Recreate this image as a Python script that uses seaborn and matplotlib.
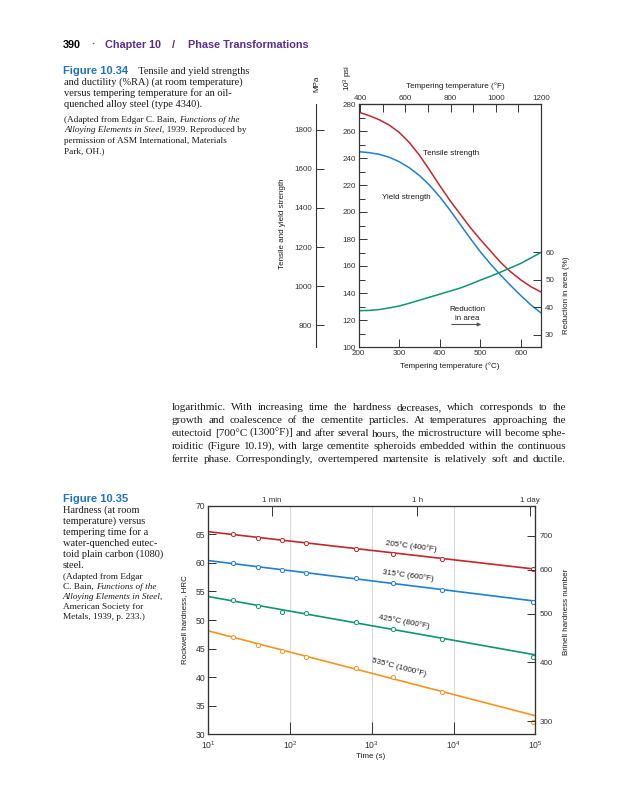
import numpy as np
import matplotlib.pyplot as plt
import matplotlib.ticker as mticker
import seaborn as sns

# ---- Figure 10.34: 4340 steel, oil quenched, tempered ----
temp_c = [200, 225, 250, 275, 300, 325, 350, 375, 400, 425, 450, 475, 500,
          525, 550, 575, 600, 625, 650]
tensile_ksi = [274, 271.5, 268.5, 264.5, 259, 251.5, 242, 231, 219.5, 208.5,
               198.5, 188.5, 179.5, 171, 162.5, 155.5, 149.5, 144.5, 140.6]
yield_ksi = [244.7, 244, 242.8, 240.6, 237.3, 232.8, 227, 219.8, 211.2, 201.4,
             190.9, 180.4, 170.4, 161.4, 153.1, 145.3, 137.9, 130.9, 125.0]
ra_pct = [38.8, 38.9, 39.2, 39.8, 40.5, 41.5, 42.6, 43.7, 44.8, 45.9,
          47.0, 48.4, 49.9, 51.3, 52.8, 54.4, 56.0, 58.0, 60.0]

# ---- Figure 10.35: 1080 steel, water quenched, hardness vs time ----
time_s = [20, 40, 80, 155, 640, 1800, 7200, 93000]
hrc_205 = [65.0, 64.4, 64.0, 63.5, 62.4, 61.5, 60.6, 58.9]
hrc_315 = [59.9, 59.3, 58.75, 58.3, 57.35, 56.5, 55.3, 53.2]
hrc_425 = [53.45, 52.5, 51.35, 51.3, 49.65, 48.4, 46.7, 43.6]
hrc_535 = [47.1, 45.6, 44.6, 43.6, 41.55, 40.0, 37.35, 32.2]
fit_time = [10, 1e5]
fit_205 = [65.45, 58.9]
fit_315 = [60.4, 53.3]
fit_425 = [54.1, 43.9]
fit_535 = [48.1, 33.25]
series_names = ['205°C (400°F)', '315°C (600°F)', '425°C (800°F)', '535°C (1000°F)']
brinell_labels = [700, 600, 500, 400, 300]
brinell_hrc = [64.7, 58.75, 51.05, 42.6, 32.3]
time_marks = [60, 3600, 86400]
time_mark_labels = ['1 min', '1 h', '1 day']

RED, BLUE, GREEN, ORANGE = '#c4262e', '#1f7fd3', '#0f9474', '#f7941d'
FIGBLUE, PURPLE = '#1d73c2', '#5a2d8f'
SPINE = '#333333'

sns.set_style('ticks')
plt.rcParams['font.family'] = ['Liberation Sans', 'DejaVu Sans']
plt.rcParams['mathtext.fontset'] = 'custom'
plt.rcParams['mathtext.rm'] = 'Liberation Sans'
plt.rcParams['mathtext.it'] = 'Liberation Sans:italic'
plt.rcParams['mathtext.bf'] = 'Liberation Sans:bold'
plt.rcParams['axes.edgecolor'] = SPINE
plt.rcParams['axes.linewidth'] = 0.8
plt.rcParams['xtick.direction'] = 'in'
plt.rcParams['ytick.direction'] = 'in'
plt.rcParams['xtick.color'] = SPINE
plt.rcParams['ytick.color'] = SPINE

W, H = 638, 800
fig = plt.figure(figsize=(W / 100, H / 100), dpi=100)
fig.patch.set_facecolor('white')
renderer = fig.canvas.get_renderer()


def pos(x, y):
    return x / W, 1 - y / H


def box(x0, y0, x1, y1):
    return [x0 / W, 1 - y1 / H, (x1 - x0) / W, (y1 - y0) / H]


def width_of(s, **kw):
    t = fig.text(0, 0, s + '|', **kw)
    w = t.get_window_extent(renderer).width
    t.remove()
    t = fig.text(0, 0, '|', **kw)
    w -= t.get_window_extent(renderer).width
    t.remove()
    return w


def runs(x, y, parts):
    for s, kw in parts:
        fig.text(*pos(x, y), s, va='baseline', **kw)
        x += width_of(s, **kw)


def justify(line, x0, x1, y, **kw):
    words = line.split(' ')
    ws = [width_of(w, **kw) for w in words]
    gap = (x1 - x0 - sum(ws)) / (len(words) - 1)
    x = x0
    for w, wd in zip(words, ws):
        fig.text(*pos(x, y), w, va='baseline', **kw)
        x += wd + gap


SERIF = dict(family=['Liberation Serif', 'DejaVu Serif'], color='#1a1a1a')
SERIF_I = dict(SERIF, style='italic')
HEAD = dict(family=['Liberation Sans', 'DejaVu Sans'], weight='bold')
CHART = 5.8

# ---- page header ----
head = [(63, '390', 'black'), (91.5, '·', RED), (105, 'Chapter 10', PURPLE),
        (172, '/', PURPLE), (188, 'Phase Transformations', PURPLE)]
for hx, s, c in head:
    fig.text(*pos(hx, 48), s, va='baseline', **dict(HEAD, size=7.8, color=c))

# ---- caption 10.34 ----
cap = dict(SERIF, size=7.5)
small = dict(SERIF, size=6.7)
small_i = dict(SERIF_I, size=6.7)
runs(63, 73.7, [('Figure 10.34', dict(HEAD, size=8, color=FIGBLUE)),
                ('    Tensile and yield strengths', cap)])
runs(64, 84.7, [('and ductility (%RA) (at room temperature)', cap)])
runs(64, 95.7, [('versus tempering temperature for an oil-', cap)])
runs(64, 106.7, [('quenched alloy steel (type 4340).', cap)])
runs(64, 121.8, [('(Adapted from Edgar C. Bain, ', small), ('Functions of the', small_i)])
runs(64, 132.3, [('Alloying Elements in Steel', small_i), (', 1939. Reproduced by', small)])
runs(64, 142.8, [('permission of ASM International, Materials', small)])
runs(64, 153.3, [('Park, OH.)', small)])

# ---- caption 10.35 ----
cap_lines = ['Hardness (at room', 'temperature) versus', 'tempering time for a',
             'water-quenched eutec-', 'toid plain carbon (1080)', 'steel.']
runs(63, 502, [('Figure 10.35', dict(HEAD, size=8, color=FIGBLUE))])
for i, s in enumerate(cap_lines):
    runs(63, 513 + 11 * i, [(s, cap)])
runs(63, 579, [('(Adapted from Edgar', small)])
runs(63, 589, [('C. Bain, ', small), ('Functions of the', small_i)])
runs(63, 599, [('Alloying Elements in Steel,', small_i)])
runs(63, 609, [('American Society for', small)])
runs(63, 619, [('Metals, 1939, p. 233.)', small)])

# ---- body paragraph ----
body = ['logarithmic. With increasing time the hardness decreases, which corresponds to the',
        'growth and coalescence of the cementite particles. At temperatures approaching the',
        'eutectoid [700°C (1300°F)] and after several hours, the microstructure will become sphe-',
        'roiditic (Figure 10.19), with large cementite spheroids embedded within the continuous',
        'ferrite phase. Correspondingly, overtempered martensite is relatively soft and ductile.']
for i, s in enumerate(body):
    justify(s, 172, 566, 410 + 12.9 * i, **dict(SERIF, size=8))

# ================= Figure 10.34 chart =================
ax1 = fig.add_axes(box(358.5, 104, 541, 347))
sns.lineplot(x=temp_c, y=tensile_ksi, ax=ax1, color=RED, lw=1.1)
sns.lineplot(x=temp_c, y=yield_ksi, ax=ax1, color=BLUE, lw=1.1)
ax1.set_xlim(200, (1200 - 32) * 5 / 9)
ax1.set_ylim(100, 280)
ax1.set_xticks([200, 300, 400, 500, 600])
ax1.set_yticks(range(100, 281, 20))
ax1.yaxis.set_minor_locator(mticker.MultipleLocator(10))
ax1.tick_params(axis='both', which='major', length=6, width=0.7, labelsize=CHART, pad=2)
ax1.tick_params(axis='y', which='minor', length=4, width=0.7)
ax1.tick_params(top=False, right=False)

ax_ra = ax1.twinx()
sns.lineplot(x=temp_c, y=ra_pct, ax=ax_ra, color=GREEN, lw=1.1)
ax_ra.set_ylim(25.65, 113.7)
ax_ra.set_yticks([30, 40, 50, 60])
ax_ra.tick_params(axis='y', length=6, width=0.7, labelsize=CHART, pad=3)
ax_ra.set_ylabel('')

ax_f = ax1.secondary_xaxis('top', functions=(lambda c: c * 9 / 5 + 32, lambda f: (f - 32) * 5 / 9))
ax_f.set_xticks([400, 600, 800, 1000, 1200])
ax_f.xaxis.set_minor_locator(mticker.MultipleLocator(100))
ax_f.tick_params(which='both', length=6, width=0.7, labelsize=CHART, pad=1.5)

ax_m = ax1.secondary_yaxis(-0.233, functions=(lambda k: k * 6.895, lambda m: m / 6.895))
ax_m.set_yticks(range(800, 1801, 200))
ax_m.tick_params(length=6, width=0.7, labelsize=CHART, pad=3)

txt = dict(size=CHART, color='#1a1a1a')
fig.text(*pos(455, 86), 'Tempering temperature (°F)', ha='center', va='center', **txt)
fig.text(*pos(450, 366), 'Tempering temperature (°C)', ha='center', va='center', **txt)
fig.text(*pos(316.5, 84), 'MPa', ha='center', va='center', rotation=90, **txt)
fig.text(*pos(348, 78), '10$^3$ psi', ha='center', va='center', rotation=90, **txt)
fig.text(*pos(282, 224), 'Tensile and yield strength', ha='center', va='center', rotation=90, **txt)
fig.text(*pos(566, 295), 'Reduction in area (%)', ha='center', va='center', rotation=90, **txt)
fig.text(*pos(423, 153.5), 'Tensile strength', ha='left', va='center', **txt)
fig.text(*pos(382, 197.5), 'Yield strength', ha='left', va='center', **txt)
fig.text(*pos(467, 309.5), 'Reduction', ha='center', va='center', **txt)
fig.text(*pos(467, 318.5), 'in area', ha='center', va='center', **txt)
fig.patches.append(plt.matplotlib.patches.FancyArrowPatch(
    pos(449, 324.5), pos(484, 324.5), transform=fig.transFigure, figure=fig,
    arrowstyle='-|>', mutation_scale=5, color='#555555', lw=0.8))

# ================= Figure 10.35 chart =================
ax2 = fig.add_axes(box(208.3, 505.7, 535.3, 734.3))
colors = [RED, BLUE, GREEN, ORANGE]
series = [hrc_205, hrc_315, hrc_425, hrc_535]
fits = [fit_205, fit_315, fit_425, fit_535]
for c, hv, fv in zip(colors, series, fits):
    sns.lineplot(x=fit_time, y=fv, ax=ax2, color=c, lw=1.2, zorder=3)
    sns.scatterplot(x=time_s, y=hv, ax=ax2, marker='o', s=9, facecolor='white',
                    edgecolor=c, linewidth=0.7, zorder=4)
ax2.set_xscale('log')
ax2.set_xlim(10, 1e5)
ax2.set_ylim(30, 70)
ax2.set_xticks([10, 100, 1000, 10000, 100000])
ax2.xaxis.set_major_formatter(mticker.LogFormatterMathtext())
ax2.xaxis.set_minor_locator(mticker.NullLocator())
ax2.set_yticks(range(30, 71, 5))
ax2.yaxis.set_minor_locator(mticker.FixedLocator([40, 60]))
ax2.grid(axis='x', which='major', color='#d9d9d9', lw=0.8)
ax2.grid(axis='y', which='minor', color='#d9d9d9', lw=0.8)
ax2.set_axisbelow(True)
ax2.tick_params(axis='x', which='major', length=9, width=0.7, labelsize=6.2, pad=3.5)
ax2.tick_params(axis='y', which='major', length=6, width=0.7, labelsize=6.2, pad=2)
ax2.tick_params(axis='y', which='minor', length=0)
ax2.tick_params(top=False, right=False)

ax_t = ax2.twiny()
ax_t.set_xscale('log')
ax_t.set_xlim(10, 1e5)
ax_t.set_xticks(time_marks, labels=time_mark_labels)
ax_t.xaxis.set_minor_locator(mticker.NullLocator())
ax_t.tick_params(length=7, width=0.7, labelsize=CHART, pad=1.5)

ax_b = ax2.twinx()
ax_b.set_ylim(30, 70)
ax_b.set_yticks(brinell_hrc, labels=[str(b) for b in brinell_labels])
ax_b.tick_params(length=6, width=0.7, labelsize=CHART, pad=3)

label_pos = [(411, 546.5, -7), (408, 576, -7.5), (404.5, 622, -10.3), (399, 667.5, -14.5)]
for name, (lx, ly, rot) in zip(series_names, label_pos):
    fig.text(*pos(lx, ly), name, ha='center', va='center', rotation=rot,
             rotation_mode='anchor', **txt)
fig.text(*pos(371, 756), 'Time (s)', ha='center', va='center', **txt)
fig.text(*pos(185, 620), 'Rockwell hardness, HRC', ha='center', va='center', rotation=90, **txt)
fig.text(*pos(567, 612), 'Brinell hardness number', ha='center', va='center', rotation=90, **txt)

fig.savefig('out.png', dpi=100, facecolor='white')
